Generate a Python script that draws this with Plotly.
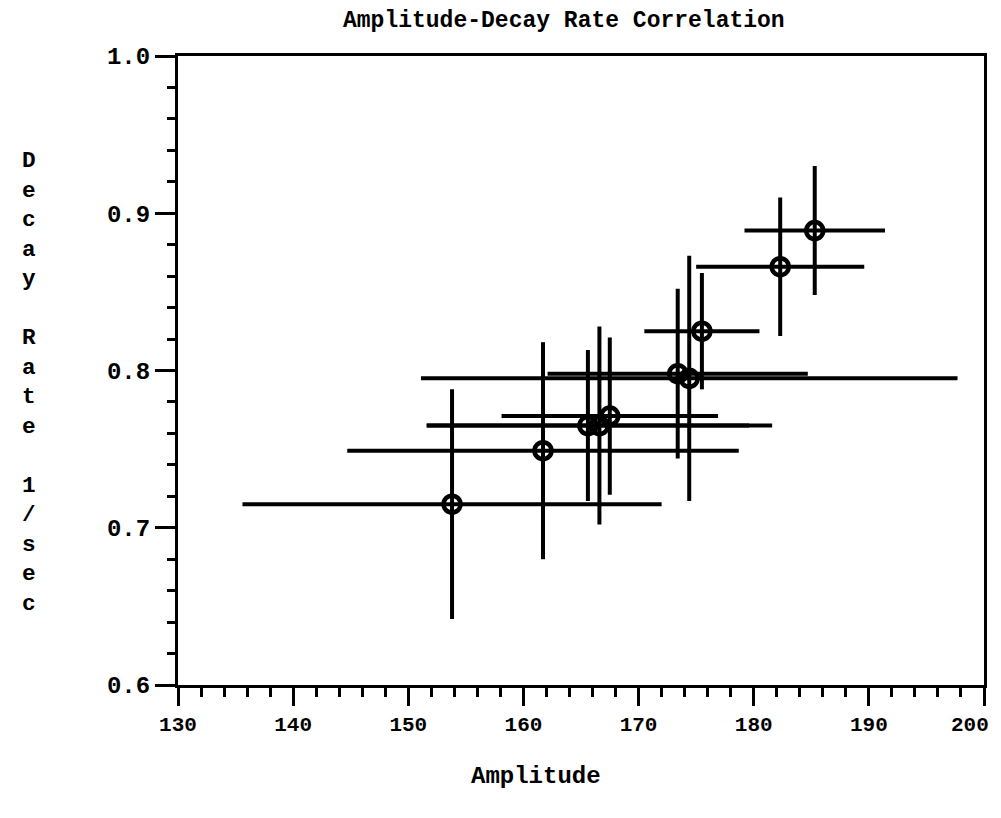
import plotly.graph_objects as go

amplitude = [153.8, 161.7, 165.6, 166.6, 167.5, 173.4, 174.4, 175.5, 182.3, 185.3]
decay_rate = [0.715, 0.749, 0.765, 0.765, 0.771, 0.798, 0.795, 0.825, 0.866, 0.889]
amplitude_err = [18.2, 17.0, 14.0, 15.0, 9.4, 11.3, 23.3, 5.0, 7.3, 6.1]
decay_err = [0.073, 0.069, 0.048, 0.063, 0.050, 0.054, 0.078, 0.037, 0.044, 0.041]

x_ticks = [130, 140, 150, 160, 170, 180, 190, 200]
y_ticks = [0.6, 0.7, 0.8, 0.9, 1.0]

FONT = "Liberation Mono"
fsize = 24
xfs = 21

# page offset of the plot div inside the browser (body margin)
OFF = 7
W, H = 1001, 818
l, r, t, b = 170, 25, 48, 141

# last tick label is drawn separately (right-aligned) so it stays inside the window
x_labels = [f"<b>{v}</b>" for v in x_ticks[:-1]] + [""]

fig = go.Figure()
fig.add_trace(go.Scatter(
    x=amplitude, y=decay_rate, mode="markers",
    marker=dict(symbol="circle-open", size=17, color="black", line=dict(width=4.5, color="black")),
    error_x=dict(type="data", array=amplitude_err, visible=True, width=0, thickness=4, color="black"),
    error_y=dict(type="data", array=decay_err, visible=True, width=0, thickness=4, color="black"),
    showlegend=False,
))

fig.update_layout(
    width=W, height=H,
    margin=dict(l=l, r=r, t=t, b=b),
    paper_bgcolor="white", plot_bgcolor="white",
    font=dict(family=FONT, size=fsize, color="black"),
    xaxis=dict(
        range=[130, 200], tickvals=x_ticks, ticktext=x_labels,
        showgrid=False, zeroline=False, showline=True, linewidth=3, linecolor="black", mirror=True,
        ticks="outside", ticklen=18, tickwidth=3, tickcolor="black",
        minor=dict(dtick=2, ticks="outside", ticklen=9, tickwidth=2.5, tickcolor="black", showgrid=False),
        tickfont=dict(family=FONT, size=xfs, color="black"),
        automargin=False,
    ),
    yaxis=dict(
        range=[0.6, 1.0], tickvals=y_ticks, ticktext=[f"<b>{v:.1f}</b>" for v in y_ticks],
        showgrid=False, zeroline=False, showline=True, linewidth=3, linecolor="black", mirror=True,
        ticks="outside", ticklen=20, tickwidth=3, tickcolor="black",
        minor=dict(dtick=0.02, ticks="outside", ticklen=8, tickwidth=2.5, tickcolor="black", showgrid=False),
        tickfont=dict(family=FONT, size=fsize, color="black"),
        automargin=False,
    ),
)

pix_annotations = [
    dict(text="<b>Amplitude-Decay Rate Correlation</b>", x=563, y=20, size=23),
    dict(text="<b>Amplitude</b>", x=535, y=775, size=fsize),
    dict(text="<b>" + "<br>".join(list("Decay")) + "<br><br>" + "<br>".join(list("Rate")) + "<br><br>" + "<br>".join(list("1/sec")) + "</b>",
         x=28, y=381, size=22.7),
]

# convert target pixel positions (in the screenshot) to paper coordinates
pw, ph = W - l - r, H - t - b
for a in pix_annotations:
    px, py = a["x"] - OFF, a["y"] - OFF
    fig.add_annotation(text=a["text"], xref="paper", yref="paper",
                       x=(px - l) / pw, y=(H - py - b) / ph,
                       xanchor="center", yanchor="middle", showarrow=False,
                       font=dict(family=FONT, size=a["size"], color="black"))

# tick label for the last x tick, right-aligned near the axis end
label_y_px = 724 - OFF
fig.add_annotation(text=f"<b>{x_ticks[-1]}</b>", xref="x", yref="paper",
                   x=x_ticks[-1], y=(H - label_y_px - b) / ph, xshift=7,
                   xanchor="right", yanchor="middle", showarrow=False,
                   font=dict(family=FONT, size=xfs, color="black"))

fig.write_html("out.html")
